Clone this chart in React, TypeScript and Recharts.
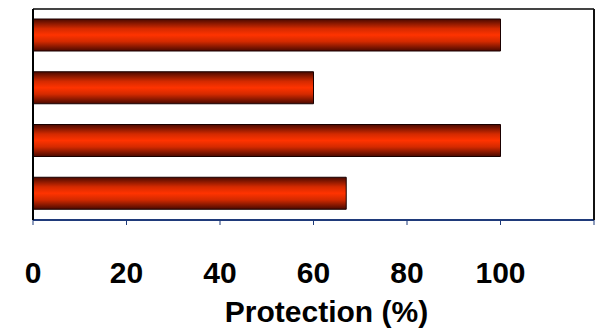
import React from 'react';
import { BarChart, Bar, XAxis, YAxis, Label } from 'recharts';

const categories = ['A', 'B', 'C', 'D'];
const protection = [100, 60, 100, 67];
const xTicks = [0, 20, 40, 60, 80, 100, 120];
const xLabels = ['0', '20', '40', '60', '80', '100', ''];

const data = categories.map((name, i) => ({ name, value: protection[i] }));

const FONT = '"Liberation Sans", Arial, sans-serif';

const Tick = (props: any) => {
  const { x, y, payload } = props;
  const idx = xTicks.indexOf(payload.value);
  const text = idx >= 0 ? xLabels[idx] : String(payload.value);
  return (
    <text x={x} y={y + 56} textAnchor="middle" fontFamily={FONT} fontWeight="bold" fontSize={30} fill="#000">
      {text}
    </text>
  );
};

const Title = (props: any) => {
  const vb = props.viewBox || {};
  return (
    <text x={vb.x + vb.width / 2 + 13} y={322} textAnchor="middle" fontFamily={FONT} fontWeight="bold" fontSize={30} fill="#000">
      Protection (%)
    </text>
  );
};

export default function App() {
  return (
    <div style={{ position: 'absolute', left: 0, top: 0, width: 595, height: 331, background: '#fff' }}>
      <BarChart
        width={595}
        height={331}
        data={data}
        layout="vertical"
        margin={{ top: 0, right: 0, bottom: 0, left: 0 }}
        barSize={32}
      >
        <defs>
          <linearGradient id="barGrad" x1="0" y1="0" x2="0" y2="1">
            <stop offset="0" stopColor="#4a0900" />
            <stop offset="0.3" stopColor="#d42a00" />
            <stop offset="0.5" stopColor="#ff3300" />
            <stop offset="0.7" stopColor="#d42a00" />
            <stop offset="1" stopColor="#4a0900" />
          </linearGradient>
        </defs>
        <XAxis
          type="number"
          domain={[0, 120]}
          ticks={xTicks}
          interval={0}
          height={111}
          axisLine={{ stroke: '#1f3a7a', strokeWidth: 2 }}
          tickLine={{ stroke: '#1f3a7a' }}
          tickSize={5}
          tickMargin={2}
          tick={<Tick />}
        >
          <Label content={<Title />} />
        </XAxis>
        <XAxis
          xAxisId="top"
          orientation="top"
          type="number"
          domain={[0, 120]}
          height={9}
          tick={false}
          tickLine={false}
          axisLine={{ stroke: '#444', strokeWidth: 2 }}
        />
        <YAxis
          type="category"
          dataKey="name"
          width={33}
          tick={false}
          tickLine={false}
          axisLine={{ stroke: '#000', strokeWidth: 2 }}
        />
        <YAxis
          yAxisId="right"
          orientation="right"
          type="category"
          dataKey="name"
          width={1}
          tick={false}
          tickLine={false}
          axisLine={{ stroke: '#111', strokeWidth: 2 }}
        />
        <Bar dataKey="value" fill="url(#barGrad)" stroke="#1a0000" strokeWidth={1} isAnimationActive={false} />
      </BarChart>
    </div>
  );
}
